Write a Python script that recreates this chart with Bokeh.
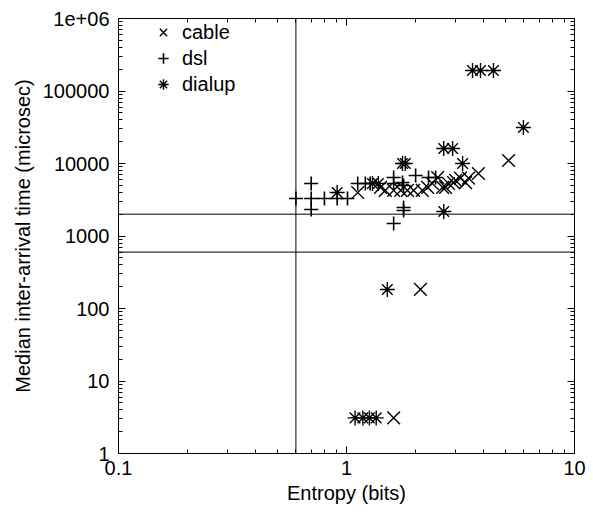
from bokeh.plotting import figure
from bokeh.models import Span, Legend, LegendItem, FixedTicker, LogAxis
from bokeh.embed import file_html
from bokeh.resources import INLINE

# ---- data ----
cable_x = [1.12, 1.41, 1.48, 1.61, 1.73, 1.85, 1.97, 2.15, 2.27, 2.38, 2.51,
           2.64, 2.72, 2.80, 2.95, 3.01, 3.16, 3.33, 3.43, 3.79, 5.14, 2.11, 1.61]
cable_y = [3980, 4670, 4250, 4250, 4250, 4250, 4250, 4250, 4670, 5300, 6410,
           4670, 4670, 5300, 5460, 5850, 6270, 5460, 6270, 7280, 11000, 183, 3.1]

dsl_x = [0.60, 0.70, 0.70, 0.70, 0.80, 0.91, 1.01, 1.12, 1.21, 1.27, 1.61,
         1.61, 1.76, 1.78, 1.78, 1.78, 1.61, 2.01, 2.29, 2.46]
dsl_y = [3290, 5300, 3290, 2320, 3290, 3290, 3290, 5300, 5300, 5300, 6410,
         5300, 5460, 4970, 2470, 2250, 1490, 6820, 6410, 6410]

dialup_x = [0.91, 1.30, 1.38, 1.76, 1.81, 2.67, 2.92, 2.67, 3.23, 3.57, 3.87,
            4.41, 5.97, 1.51, 1.09, 1.18, 1.26, 1.35]
dialup_y = [3980, 5300, 5300, 10000, 10000, 16100, 16100, 2180, 10000, 192000,
            192000, 192000, 31400, 183, 3.1, 3.1, 3.1, 3.1]

x_ticks = [0.1, 1, 10]
x_tick_labels = ["0.1", "1", "10"]
y_ticks = [1, 10, 100, 1000, 10000, 100000, 1000000]
y_tick_labels = ["1", "10", "100", "1000", "10000", "100000", "1e+06"]
x_minor = [m * t for t in x_ticks[:-1] for m in range(2, 10)]
y_minor = [m * t for t in y_ticks[:-1] for m in range(2, 10)]

h_lines = [2000, 600]
v_lines = [0.6]

FONT = "Liberation Sans"
FS = "20px"

p = figure(width=593, height=514, x_axis_type="log", y_axis_type="log",
           x_range=(0.1, 10), y_range=(1, 1e6),
           output_backend="svg", toolbar_location=None,
           min_border_left=118, min_border_right=19,
           min_border_top=18, min_border_bottom=61,
           x_axis_label="Entropy (bits)",
           y_axis_label="Median inter-arrival time (microsec)")
p.background_fill_color = "white"
p.border_fill_color = "white"
p.outline_line_color = "black"
p.outline_line_width = 1
p.xgrid.visible = False
p.ygrid.visible = False

xt = FixedTicker(ticks=x_ticks, minor_ticks=x_minor)
yt = FixedTicker(ticks=y_ticks, minor_ticks=y_minor)


def style_axis(ax, show_labels=True):
    ax.major_tick_in = 7
    ax.major_tick_out = 0
    ax.minor_tick_in = 4
    ax.minor_tick_out = 0
    ax.major_tick_line_color = "black"
    ax.minor_tick_line_color = "black"
    ax.axis_line_color = "black"
    ax.major_label_text_font = FONT
    ax.major_label_text_color = "black"
    ax.axis_label_text_font = FONT
    ax.axis_label_text_font_style = "normal"
    ax.axis_label_text_font_size = FS
    ax.axis_label_text_color = "black"
    if show_labels:
        ax.major_label_text_font_size = FS
    else:
        ax.major_label_text_font_size = "0px"
        ax.major_label_standoff = 0


xa = p.xaxis[0]
ya = p.yaxis[0]
xa.ticker = xt
ya.ticker = yt
xa.major_label_overrides = dict(zip(x_ticks, x_tick_labels))
ya.major_label_overrides = dict(zip(y_ticks, y_tick_labels))
style_axis(xa)
style_axis(ya)
xa.major_label_standoff = 7
xa.axis_label_standoff = 4
ya.major_label_standoff = 9
ya.axis_label_standoff = 6

top_ax = LogAxis(ticker=xt)
right_ax = LogAxis(ticker=yt)
style_axis(top_ax, False)
style_axis(right_ax, False)
top_ax.major_label_overrides = {t: "" for t in x_ticks}
right_ax.major_label_overrides = {t: "" for t in y_ticks}
p.add_layout(top_ax, "above")
p.add_layout(right_ax, "right")

for yv in h_lines:
    p.add_layout(Span(location=yv, dimension="width", line_color="black", line_width=1))
for xv in v_lines:
    p.add_layout(Span(location=xv, dimension="height", line_color="black", line_width=1))

r_cable = p.scatter(cable_x, cable_y, marker="x", size=18,
                    line_color="black", line_width=1.4)
r_dsl = p.scatter(dsl_x, dsl_y, marker="cross", size=14,
                  line_color="black", line_width=1.6)
r_dialup = p.scatter(dialup_x, dialup_y, marker="asterisk", size=15,
                     line_color="black", line_width=1.4)

legend = Legend(items=[LegendItem(label="cable", renderers=[r_cable]),
                       LegendItem(label="dsl", renderers=[r_dsl]),
                       LegendItem(label="dialup", renderers=[r_dialup])],
                location=(32, 356))
legend.border_line_color = None
legend.background_fill_alpha = 0
legend.label_text_font = FONT
legend.label_text_font_size = FS
legend.label_text_color = "black"
legend.glyph_height = 26
legend.label_height = 26
legend.glyph_width = 26
legend.label_standoff = 6
legend.spacing = -7
legend.padding = 5
legend.margin = 0
p.add_layout(legend, "center")

open("out.html", "w").write(file_html(p, INLINE))
